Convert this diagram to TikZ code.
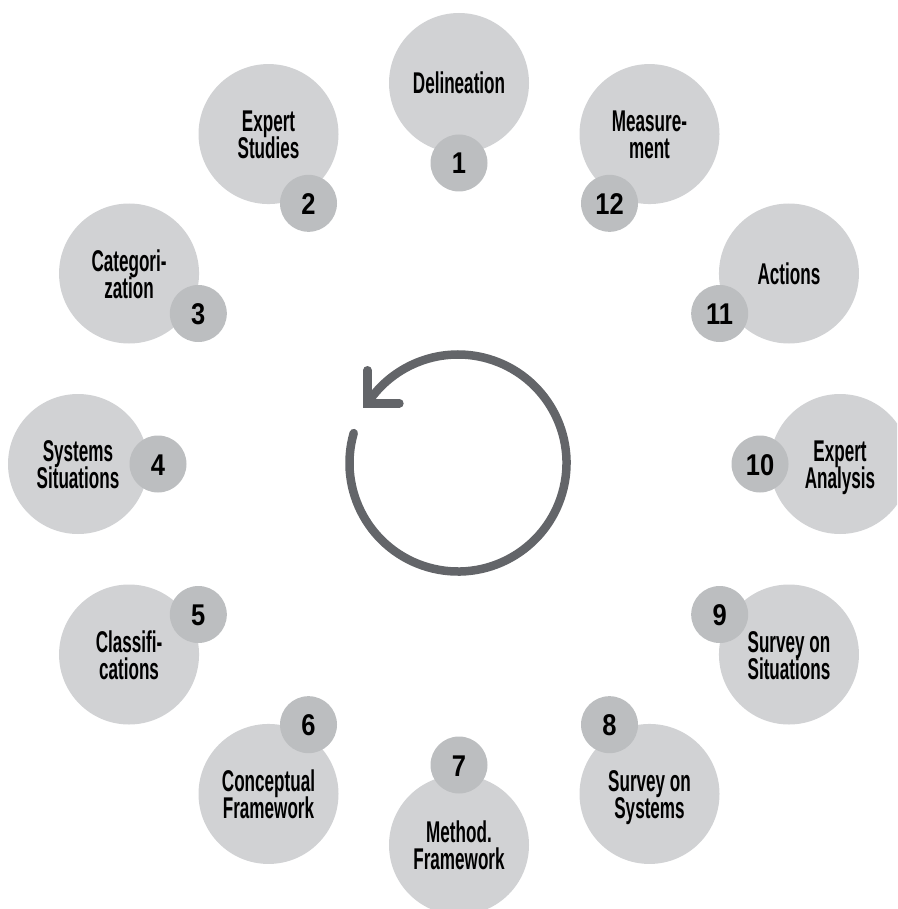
\documentclass[tikz,border=0pt]{standalone}
\usepackage{fontspec}
\usetikzlibrary{calc}
\newfontfamily\lblfont[FakeStretch=0.57]{Liberation Sans}
\newfontfamily\numfont[FakeStretch=0.85]{Liberation Sans}
\definecolor{bigc}{HTML}{D1D2D4}
\definecolor{smallc}{HTML}{BCBEC0}
\definecolor{ringc}{HTML}{636569}
\begin{document}
\begin{tikzpicture}[x=1pt,y=-1pt,
  bigdisc/.style={circle, fill=bigc, minimum size=140pt, inner sep=0pt},
  smalldisc/.style={circle, fill=smallc, minimum size=57pt, inner sep=0pt},
  lbl/.style={font=\lblfont\bfseries\fontsize{30}{27}\selectfont, anchor=base, inner sep=0pt, text=black},
  num/.style={font=\numfont\bfseries\fontsize{30}{27}\selectfont, anchor=base, inner sep=0pt, text=black},
  ring/.style={draw=ringc, line width=8.5pt}]
\useasboundingbox (0,0) rectangle (897,909);
\clip (0,0) rectangle (897,909);
\foreach \k in {1,...,12} {
  \pgfmathsetmacro\ang{90+30*(\k-1)}
  \node[bigdisc] (b\k) at ({459+381*cos(\ang)}, {464-381*sin(\ang)}) {};
}
\foreach \k in {1,...,12} {
  \pgfmathsetmacro\ang{90+30*(\k-1)}
  \node[smalldisc] (s\k) at ({459+301*cos(\ang)}, {464-301*sin(\ang)}) {};
  \node[num] (n\k) at ($(s\k)+(0,11)$) {\k};
}
% labels
\node[lbl] (l1) at ($(b1)+(0,11)$) {Delineation};
\node[lbl] (l2a) at ($(b2)+(0,-2.5)$) {Expert};
\node[lbl] (l2b) at ($(b2)+(0,24.5)$) {Studies};
\node[lbl] (l3a) at ($(b3)+(0,-2.5)$) {Categori-};
\node[lbl] (l3b) at ($(b3)+(0,24.5)$) {zation};
\node[lbl] (l4a) at ($(b4)+(0,-2.5)$) {Systems};
\node[lbl] (l4b) at ($(b4)+(0,24.5)$) {Situations};
\node[lbl] (l5a) at ($(b5)+(0,-2.5)$) {Classifi-};
\node[lbl] (l5b) at ($(b5)+(0,24.5)$) {cations};
\node[lbl] (l6a) at ($(b6)+(0,-2.5)$) {Conceptual};
\node[lbl] (l6b) at ($(b6)+(0,24.5)$) {Framework};
\node[lbl] (l7a) at ($(b7)+(0,-2.5)$) {Method.};
\node[lbl] (l7b) at ($(b7)+(0,24.5)$) {Framework};
\node[lbl] (l8a) at ($(b8)+(0,-2.5)$) {Survey on};
\node[lbl] (l8b) at ($(b8)+(0,24.5)$) {Systems};
\node[lbl] (l9a) at ($(b9)+(0,-2.5)$) {Survey on};
\node[lbl] (l9b) at ($(b9)+(0,24.5)$) {Situations};
\node[lbl] (l10a) at ($(b10)+(0,-2.5)$) {Expert};
\node[lbl] (l10b) at ($(b10)+(0,24.5)$) {Analysis};
\node[lbl] (l11) at ($(b11)+(0,11)$) {Actions};
\node[lbl] (l12a) at ($(b12)+(0,-2.5)$) {Measure-};
\node[lbl] (l12b) at ($(b12)+(0,24.5)$) {ment};
% cycle arrow
\coordinate (rc) at (458,463);
\draw[ring, line cap=round] (rc) ++(196:108.5) arc[start angle=196, end angle=-146.6, radius=108.5] coordinate (ae);
\draw[ring, line cap=round, line join=miter] ($(ae)+(0,-33)$) -- (ae) -- ($(ae)+(32,0)$);
\end{tikzpicture}
\end{document}
